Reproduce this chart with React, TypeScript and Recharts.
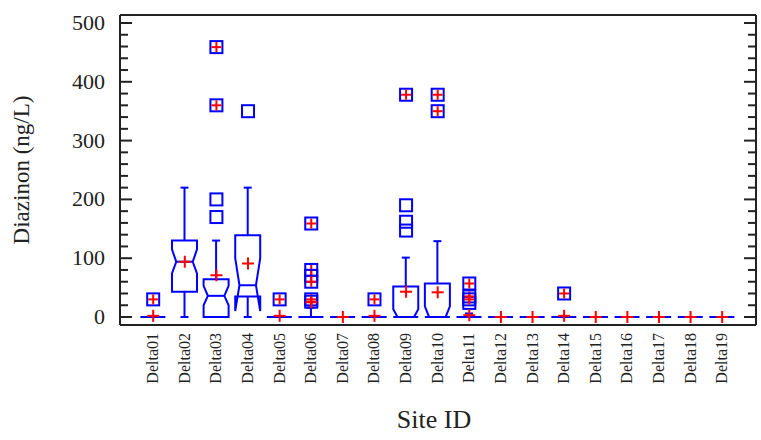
import React from "react";
import { ComposedChart, Bar, Scatter, XAxis, YAxis, Label } from "recharts";

// sites along the x axis
const sites = [
  "Delta01", "Delta02", "Delta03", "Delta04", "Delta05", "Delta06", "Delta07",
  "Delta08", "Delta09", "Delta10", "Delta11", "Delta12", "Delta13", "Delta14",
  "Delta15", "Delta16", "Delta17", "Delta18", "Delta19",
];

// box statistics, ng/L, one entry per site
const q1 = [0, 43, 0, 35, 0, 0, 0, 0, 0, 0, 0, 0, 0, 0, 0, 0, 0, 0, 0];
const median = [0, 94, 36, 54, 0, 0, 0, 0, 0, 0, 0, 0, 0, 0, 0, 0, 0, 0, 0];
const q3 = [0, 130, 64, 139, 0, 0, 0, 0, 52, 57, 0, 0, 0, 0, 0, 0, 0, 0, 0];
const whiskerLow = [0, 0, 0, 0, 0, 0, 0, 0, 0, 0, 0, 0, 0, 0, 0, 0, 0, 0, 0];
const whiskerHigh = [0, 220, 130, 220, 0, 16, 0, 0, 101, 129, 6, 0, 0, 0, 0, 0, 0, 0, 0];
const notchLow = [0, 74, 20, 10, 0, 0, 0, 0, 0, 0, 0, 0, 0, 0, 0, 0, 0, 0, 0];
const notchHigh = [0, 115, 53, 100, 0, 0, 0, 0, 13, 18, 0, 0, 0, 0, 0, 0, 0, 0, 0];
const means = [2, 94, 71, 91, 2, 25, 0, 2, 43, 42, 3, 0, 0, 2, 0, 0, 0, 0, 0];

// outside points (plain square) and far outside points (square with plus)
const outsidePoints: [string, number][] = [
  ["Delta03", 200], ["Delta03", 170], ["Delta04", 350],
  ["Delta09", 190], ["Delta09", 162], ["Delta09", 147], ["Delta11", 24],
];
const farOutsidePoints: [string, number][] = [
  ["Delta01", 30], ["Delta03", 459], ["Delta03", 360], ["Delta05", 30],
  ["Delta06", 159], ["Delta06", 80], ["Delta06", 70], ["Delta06", 60],
  ["Delta06", 30], ["Delta06", 26], ["Delta08", 30], ["Delta09", 378],
  ["Delta10", 378], ["Delta10", 350], ["Delta11", 57], ["Delta11", 35],
  ["Delta11", 30], ["Delta14", 40],
];

const yTicks = [0, 20, 40, 60, 80, 100, 120, 140, 160, 180, 200, 220, 240, 260, 280, 300, 320, 340, 360, 380, 400, 420, 440, 460, 480, 500];
const xTicks = [1, 2, 3, 4, 5, 6, 7, 8, 9, 10, 11, 12, 13, 14, 15, 16, 17, 18, 19];

const Y_MIN = -13.6;
const Y_MAX = 513.6;
const X_DOMAIN = [-0.05, 20.07];

const BLUE = "#0000ff";
const RED = "#ff0000";
const INK = "#222222";
const SERIF = "'Liberation Serif', 'Times New Roman', serif";

const boxData = sites.map((site, i) => ({
  x: i + 1,
  site,
  span: [Y_MIN, Y_MAX],
  q1: q1[i],
  median: median[i],
  q3: q3[i],
  lo: whiskerLow[i],
  hi: whiskerHigh[i],
  notchLo: notchLow[i],
  notchHi: notchHigh[i],
}));

const meanData = means.map((v, i) => ({ x: i + 1, y: v }));
const outsideData = outsidePoints.map(([s, v]) => ({ x: sites.indexOf(s) + 1, y: v }));
const farData = farOutsidePoints.map(([s, v]) => ({ x: sites.indexOf(s) + 1, y: v }));

// the bar spans the whole y domain, so its pixel extent gives the value scale
function BoxShape(props: any) {
  const { x, y, width, height, payload } = props;
  const py = (v: number) => y + ((Y_MAX - v) / (Y_MAX - Y_MIN)) * height;
  const cx = x + width / 2;
  const L = x;
  const R = x + width;
  const iL = cx - width * 0.33;
  const iR = cx + width * 0.33;
  const cap = 4;
  const { q1, median, q3, lo, hi, notchLo, notchHi } = payload;

  return (
    <g stroke={BLUE} strokeWidth={2} fill="none">
      {q3 > q1 ? (
        <>
          <path
            d={`M${L},${py(q3)} L${L},${py(notchHi)} L${iL},${py(median)} L${L},${py(notchLo)} L${L},${py(q1)} L${R},${py(q1)} L${R},${py(notchLo)} L${iR},${py(median)} L${R},${py(notchHi)} L${R},${py(q3)} Z`}
          />
          <line x1={iL} x2={iR} y1={py(median)} y2={py(median)} />
        </>
      ) : (
        <line x1={L} x2={R} y1={py(median)} y2={py(median)} />
      )}
      {hi > q3 && (
        <>
          <line x1={cx} x2={cx} y1={py(q3)} y2={py(hi)} />
          <line x1={cx - cap} x2={cx + cap} y1={py(hi)} y2={py(hi)} />
        </>
      )}
      {lo < q1 && (
        <>
          <line x1={cx} x2={cx} y1={py(q1)} y2={py(lo)} />
          <line x1={cx - cap} x2={cx + cap} y1={py(lo)} y2={py(lo)} />
        </>
      )}
    </g>
  );
}

const Plus = ({ cx, cy }: any) => (
  <g stroke={RED} strokeWidth={2}>
    <line x1={cx - 6} x2={cx + 6} y1={cy} y2={cy} />
    <line x1={cx} x2={cx} y1={cy - 6} y2={cy + 6} />
  </g>
);

const Square = ({ cx, cy }: any) => (
  <rect x={cx - 6} y={cy - 6} width={12} height={12} fill="none" stroke={BLUE} strokeWidth={2} />
);

const SquarePlus = ({ cx, cy }: any) => (
  <g>
    <Square cx={cx} cy={cy} />
    <line x1={cx - 5} x2={cx + 5} y1={cy} y2={cy} stroke={RED} strokeWidth={2} />
    <line x1={cx} x2={cx} y1={cy - 5} y2={cy + 5} stroke={RED} strokeWidth={2} />
  </g>
);

// ticks point into the plot; only the hundreds get a label
const LeftTick = ({ x, y, payload }: any) => {
  const major = payload.value % 100 === 0;
  return (
    <g>
      <line x1={x} x2={x + (major ? 12 : 8)} y1={y} y2={y} stroke={INK} strokeWidth={2} />
      {major && (
        <text x={x - 15} y={y + 7} textAnchor="end" fontFamily={SERIF} fontSize={22} fill={INK}>
          {payload.value}
        </text>
      )}
    </g>
  );
};

const RightTick = ({ x, y, payload }: any) => {
  const major = payload.value % 100 === 0;
  return <line x1={x} x2={x - (major ? 12 : 8)} y1={y} y2={y} stroke={INK} strokeWidth={2} />;
};

const SiteTick = ({ x, y, payload }: any) => (
  <text
    x={x + 5}
    y={y + 8}
    transform={`rotate(-90 ${x + 5} ${y + 8})`}
    textAnchor="end"
    fontFamily={SERIF}
    fontSize={16}
    fill={INK}
  >
    {sites[payload.value - 1]}
  </text>
);

export default function App() {
  return (
    <div style={{ position: "absolute", left: 0, top: 0, width: 761, height: 440, background: "#fff" }}>
      <ComposedChart
        width={761}
        height={440}
        data={boxData}
        margin={{ top: 14, right: 4, bottom: 0, left: 0 }}
      >
        <XAxis
          dataKey="x"
          type="number"
          domain={X_DOMAIN}
          ticks={xTicks}
          interval={0}
          height={115}
          tickSize={0}
          tickMargin={0}
          tick={<SiteTick />}
          axisLine={{ stroke: INK, strokeWidth: 2 }}
          allowDataOverflow
        >
          <Label
            content={({ viewBox }: any) => (
              <text
                x={viewBox.x + viewBox.width / 2 - 4}
                y={viewBox.y + 103}
                textAnchor="middle"
                fontFamily={SERIF}
                fontSize={26}
                fill={INK}
              >
                Site ID
              </text>
            )}
          />
        </XAxis>
        <XAxis
          xAxisId="top"
          dataKey="x"
          orientation="top"
          type="number"
          domain={X_DOMAIN}
          height={1}
          tick={false}
          tickLine={false}
          axisLine={{ stroke: INK, strokeWidth: 2 }}
          allowDataOverflow
        />
        <YAxis
          type="number"
          domain={[Y_MIN, Y_MAX]}
          ticks={yTicks}
          interval={0}
          width={120}
          tickSize={0}
          tickMargin={0}
          tick={<LeftTick />}
          axisLine={{ stroke: INK, strokeWidth: 2 }}
          allowDataOverflow
        >
          <Label
            content={({ viewBox }: any) => {
              const lx = viewBox.x + 29;
              const ly = viewBox.y + viewBox.height / 2;
              return (
                <text
                  x={lx}
                  y={ly}
                  transform={`rotate(-90 ${lx} ${ly})`}
                  textAnchor="middle"
                  fontFamily={SERIF}
                  fontSize={23}
                  fill={INK}
                >
                  Diazinon (ng/L)
                </text>
              );
            }}
          />
        </YAxis>
        <YAxis
          yAxisId="right"
          orientation="right"
          type="number"
          domain={[Y_MIN, Y_MAX]}
          ticks={yTicks}
          interval={0}
          width={1}
          tickSize={0}
          tickMargin={0}
          tick={<RightTick />}
          axisLine={{ stroke: INK, strokeWidth: 2 }}
          allowDataOverflow
        />
        <Bar dataKey="span" barSize={25} shape={(p: any) => <BoxShape {...p} />} isAnimationActive={false} />
        <Scatter data={outsideData} dataKey="y" shape={<Square />} isAnimationActive={false} />
        <Scatter data={farData} dataKey="y" shape={<SquarePlus />} isAnimationActive={false} />
        {/* means sit on the top/right axes, which share the same domains */}
        <Scatter
          data={meanData}
          dataKey="y"
          xAxisId="top"
          yAxisId="right"
          shape={<Plus />}
          isAnimationActive={false}
        />
      </ComposedChart>
    </div>
  );
}
